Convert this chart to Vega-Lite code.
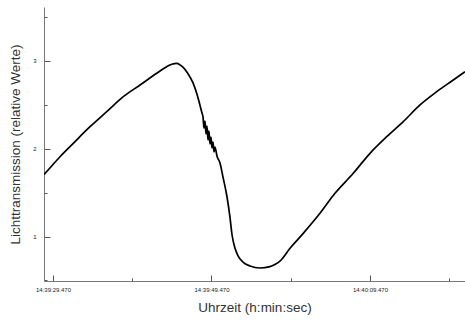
{
  "$schema": "https://vega.github.io/schema/vega-lite/v6.json",
  "width": 421,
  "height": 274,
  "autosize": "none",
  "padding": {"left": 44, "top": 7, "right": 0, "bottom": 41},
  "background": "white",
  "config": {
    "font": "Liberation Sans",
    "view": {"stroke": null},
    "axis": {"grid": false, "domainColor": "#777777", "tickColor": "#555555", "labelColor": "#222222", "titleColor": "#333333", "titleFontWeight": "normal", "titleFontSize": 13.5, "labelFontSize": 6}
  },
  "data": {"values": [
    {"t": -1.14, "v": 1.708},
    {"t": -1.01, "v": 1.72},
    {"t": 0.88, "v": 1.909},
    {"t": 2.56, "v": 2.062},
    {"t": 4.67, "v": 2.251},
    {"t": 6.78, "v": 2.422},
    {"t": 8.87, "v": 2.593},
    {"t": 10.98, "v": 2.726},
    {"t": 13.09, "v": 2.86},
    {"t": 14.35, "v": 2.935},
    {"t": 15.0, "v": 2.962},
    {"t": 15.6, "v": 2.972},
    {"t": 16.0, "v": 2.958},
    {"t": 16.4, "v": 2.93},
    {"t": 17.0, "v": 2.86},
    {"t": 17.67, "v": 2.75},
    {"t": 18.17, "v": 2.62},
    {"t": 18.8, "v": 2.407},
    {"t": 18.93, "v": 2.362},
    {"t": 19.05, "v": 2.236},
    {"t": 19.18, "v": 2.316},
    {"t": 19.31, "v": 2.168},
    {"t": 19.43, "v": 2.259},
    {"t": 19.56, "v": 2.1},
    {"t": 19.68, "v": 2.202},
    {"t": 19.81, "v": 2.054},
    {"t": 19.94, "v": 2.134},
    {"t": 20.06, "v": 2.009},
    {"t": 20.19, "v": 2.077},
    {"t": 20.32, "v": 1.963},
    {"t": 20.44, "v": 2.02},
    {"t": 20.69, "v": 1.917},
    {"t": 21.07, "v": 1.838},
    {"t": 21.45, "v": 1.678},
    {"t": 21.96, "v": 1.45},
    {"t": 22.33, "v": 1.222},
    {"t": 22.59, "v": 1.02},
    {"t": 22.96, "v": 0.87},
    {"t": 23.35, "v": 0.78},
    {"t": 23.97, "v": 0.709},
    {"t": 24.86, "v": 0.664},
    {"t": 26.12, "v": 0.641},
    {"t": 27.38, "v": 0.656},
    {"t": 28.0, "v": 0.68},
    {"t": 28.64, "v": 0.72},
    {"t": 29.91, "v": 0.866},
    {"t": 31.58, "v": 1.036},
    {"t": 33.69, "v": 1.264},
    {"t": 35.58, "v": 1.492},
    {"t": 37.89, "v": 1.72},
    {"t": 40.0, "v": 1.948},
    {"t": 42.11, "v": 2.137},
    {"t": 44.2, "v": 2.308},
    {"t": 46.31, "v": 2.499},
    {"t": 48.42, "v": 2.65},
    {"t": 50.51, "v": 2.783},
    {"t": 51.99, "v": 2.878}
  ]},
  "mark": {"type": "line", "color": "black", "strokeWidth": 1.7, "interpolate": "monotone", "clip": true},
  "encoding": {
    "x": {
      "field": "t", "type": "quantitative",
      "scale": {"domain": [-1.136, 51.99], "nice": false, "zero": false},
      "axis": {
        "title": "Uhrzeit (h:min:sec)",
        "values": [0, 10, 20, 30, 40, 50],
        "labelExpr": "datum.value == 0 ? '14:39:29.470' : datum.value == 20 ? '14:39:49.470' : datum.value == 40 ? '14:40:09.470' : ''",
        "tickSize": {"condition": {"test": "datum.value % 20 == 0", "value": -6}, "value": -3},
        "labelPadding": 11,
        "labelFlush": false,
        "titlePadding": 8
      }
    },
    "y": {
      "field": "v", "type": "quantitative",
      "scale": {"domain": [0.493, 3.615], "nice": false, "zero": false},
      "axis": {
        "title": "Lichttransmission (relative Werte)",
        "values": [0.5, 1, 1.5, 2, 2.5, 3, 3.5],
        "labelExpr": "datum.value % 1 == 0 ? format(datum.value, 'd') : ''",
        "tickSize": {"condition": {"test": "datum.value % 1 == 0", "value": -6}, "value": -3},
        "labelPadding": 14,
        "titlePadding": 10
      }
    }
  }
}
